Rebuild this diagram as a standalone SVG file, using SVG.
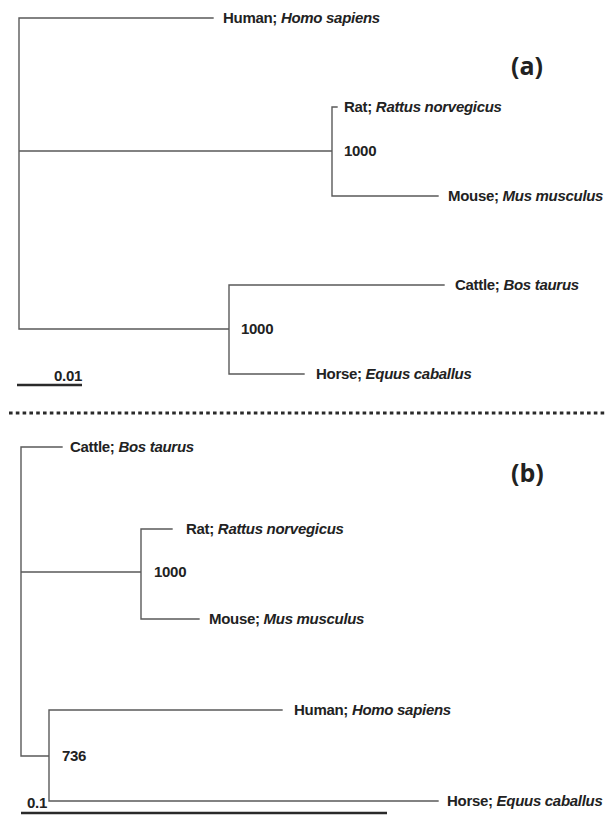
<svg xmlns="http://www.w3.org/2000/svg" width="607" height="821" viewBox="0 0 607 821">
<style>
.br{stroke:#5a5a5a;stroke-width:1.4;fill:none;stroke-linecap:square}
.sb{stroke:#2a2a2a;stroke-width:2.6;fill:none}
.dot{stroke:#2a2a2a;stroke-width:3;stroke-dasharray:3.6 3.2;fill:none}
text{font-family:"Liberation Sans",Arial,sans-serif;font-weight:bold;fill:#222;font-size:15px;letter-spacing:-0.3px}
.it{font-style:italic}
.pl{font-family:"Open Sans","Liberation Sans",sans-serif;font-size:25px;letter-spacing:0}
</style>
<rect width="607" height="821" fill="#fff"/>
<g id="connectors">
<!-- panel a -->
<path class="br" d="M19 18V329M19 18H213M19 151H332M332 107V196M332 107H337M332 196H438M19 329H229M229 285V374M229 285H444M229 374H304"/>
<!-- panel b -->
<path class="br" d="M21 447V756M21 447H62M21 572H141M141 529V619M141 529H172M141 619H199M21 756H49M49 710V801M49 710H282M49 801H438"/>
</g>
<g id="panel-a">
<g id="a-label"><text class="pl" x="511" y="75">(a)</text></g>
<g id="a-human"><text x="223" y="23">Human; <tspan class="it">Homo sapiens</tspan></text></g>
<g id="a-rat"><text x="344" y="112">Rat; <tspan class="it">Rattus norvegicus</tspan></text></g>
<g id="a-ratmouse-node"><text x="344" y="156">1000</text></g>
<g id="a-mouse"><text x="448" y="201">Mouse; <tspan class="it">Mus musculus</tspan></text></g>
<g id="a-cattle"><text x="455" y="290">Cattle; <tspan class="it">Bos taurus</tspan></text></g>
<g id="a-cattlehorse-node"><text x="241" y="334">1000</text></g>
<g id="a-horse"><text x="316" y="379">Horse; <tspan class="it">Equus caballus</tspan></text></g>
<g id="a-scale"><line class="sb" x1="17" y1="385" x2="82" y2="385"/><text x="82" y="381" text-anchor="end">0.01</text></g>
</g>
<g id="divider"><line class="dot" x1="9" y1="413" x2="607" y2="413"/></g>
<g id="panel-b">
<g id="b-label"><text class="pl" x="511" y="482">(b)</text></g>
<g id="b-cattle"><text x="70" y="452">Cattle; <tspan class="it">Bos taurus</tspan></text></g>
<g id="b-rat"><text x="186" y="534">Rat; <tspan class="it">Rattus norvegicus</tspan></text></g>
<g id="b-ratmouse-node"><text x="154" y="577">1000</text></g>
<g id="b-mouse"><text x="209" y="624">Mouse; <tspan class="it">Mus musculus</tspan></text></g>
<g id="b-human"><text x="294" y="715">Human; <tspan class="it">Homo sapiens</tspan></text></g>
<g id="b-humanhorse-node"><text x="62" y="761">736</text></g>
<g id="b-horse"><text x="447" y="806">Horse; <tspan class="it">Equus caballus</tspan></text></g>
<g id="b-scale"><line class="sb" x1="21" y1="813" x2="387" y2="813"/><text x="27" y="808">0.1</text></g>
</g>
</svg>
